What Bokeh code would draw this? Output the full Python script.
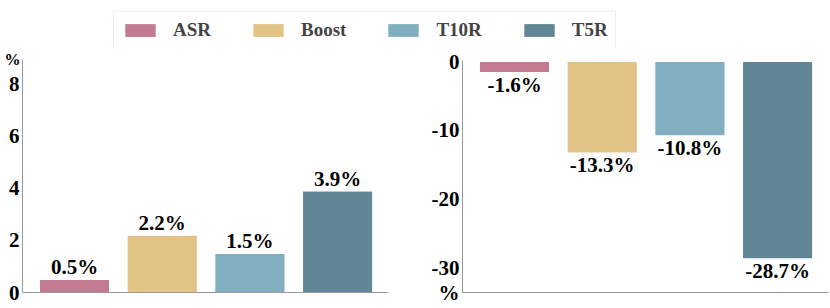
from bokeh.plotting import figure
from bokeh.models import (ColumnDataSource, Range1d, FixedTicker, Legend, LegendItem,
                          CustomJSTickFormatter, Label)
from bokeh.layouts import column, row
from bokeh.embed import file_html
from bokeh.resources import INLINE
from bokeh.core.properties import value

# ---- data ----
methods = ["ASR", "Boost", "T10R", "T5R"]
colors = ["#C27B91", "#E0C385", "#82AFC0", "#618696"]
gain_values = [0.5, 2.2, 1.5, 3.9]
drop_values = [-1.6, -13.3, -10.8, -28.7]
gain_ticks = [0, 2, 4, 6, 8]
drop_ticks = [0, -10, -20, -30]
unit_label = "%"

FONT = "Liberation Serif"
AXIS_COLOR = "#9a9a9a"
positions = list(range(len(methods)))


def make_source(vals):
    return ColumnDataSource(dict(
        x=positions, top=vals, method=methods, color=colors,
        label=[f"{v:.1f}%" for v in vals],
    ))


def style(p, ticks, unit_pos=None):
    p.grid.visible = False
    p.outline_line_color = None
    p.background_fill_color = "white"
    p.border_fill_color = "white"
    p.xaxis.ticker = FixedTicker(ticks=[])
    p.xaxis.major_tick_line_color = None
    p.xaxis.minor_tick_line_color = None
    p.xaxis.major_tick_out = 0
    p.xaxis.major_tick_in = 0
    p.xaxis.major_label_text_font_size = "0px"
    p.xaxis.major_label_standoff = 0
    p.xaxis.axis_line_color = AXIS_COLOR
    extra = [] if unit_pos is None else [unit_pos]
    edge = 1e9 if unit_pos is None else unit_pos
    p.yaxis.ticker = FixedTicker(ticks=ticks + extra)
    p.yaxis.formatter = CustomJSTickFormatter(
        args=dict(unit=unit_label, edge=edge),
        code="return Math.abs(tick - edge) < 1e-6 ? unit : tick.toFixed(0);")
    p.yaxis.major_tick_line_color = None
    p.yaxis.minor_tick_line_color = None
    p.yaxis.major_tick_out = 0
    p.yaxis.major_tick_in = 0
    p.yaxis.major_label_standoff = 3
    p.yaxis.major_label_text_font = FONT
    p.yaxis.major_label_text_font_style = "bold"
    p.yaxis.major_label_text_font_size = "21px"
    p.yaxis.major_label_text_color = "black"
    p.yaxis.axis_line_color = AXIS_COLOR


# ---- left panel (gains) ----
src_l = make_source(gain_values)
lx = Range1d(-0.593, 3.58)
ly = Range1d(0, 8.92)
left = figure(width=408, height=258, x_range=lx, y_range=ly,
              output_backend="svg", toolbar_location=None,
              min_border_left=22, min_border_right=20,
              min_border_top=12, min_border_bottom=14)
left.vbar(x="x", top="top", bottom=0, width=0.8, source=src_l,
          fill_color="color", line_color="white", line_width=1)
left.text(x="x", y="top", text="label", source=src_l,
          text_font=value(FONT), text_font_style="bold", text_font_size="21px",
          text_align="center", text_baseline="bottom", y_offset=0,
          text_color="black")
style(left, gain_ticks)
# unit sign at the top of the value axis (kept in the roomy right border so it
# does not widen the left border; positioned through the plot's own scales)
left.add_layout(Label(x=lx.start, y=ly.end, x_offset=-2, y_offset=1, text=unit_label,
                      text_align="right", text_baseline="middle",
                      text_font=FONT, text_font_style="bold", text_font_size="16px",
                      text_color="black"), "right")

# ---- right panel (drops) ----
src_r = make_source(drop_values)
rx = Range1d(-0.593, 3.58)
ry = Range1d(-33.6, 0.15)
right = figure(width=422, height=258, x_range=rx, y_range=ry,
               output_backend="svg", toolbar_location=None,
               min_border_left=54, min_border_right=2,
               min_border_top=12, min_border_bottom=14)
right.vbar(x="x", top=0, bottom="top", width=0.8, source=src_r,
           fill_color="color", line_color="white", line_width=1)
right.text(x="x", y="top", text="label", source=src_r,
           text_font=value(FONT), text_font_style="bold", text_font_size="21px",
           text_align="center", text_baseline="top", y_offset=0,
           text_color="black")
style(right, drop_ticks, ry.start)

# ---- legend strip ----
leg_fig = figure(width=830, height=48, x_range=Range1d(0, 1), y_range=Range1d(0, 1),
                 output_backend="svg", toolbar_location=None, min_border=0,
                 x_axis_location=None, y_axis_location=None)
leg_fig.grid.visible = False
leg_fig.outline_line_color = None
src_leg = make_source(gain_values)
leg_r = leg_fig.vbar(x="x", top="top", width=0.8, source=src_leg,
                     fill_color="color", line_color=None, visible=False)
items = [LegendItem(label=m, renderers=[leg_r], index=i) for i, m in enumerate(methods)]
legend = Legend(items=items, orientation="horizontal", location=(113, -1),
                glyph_width=38, glyph_height=16, label_standoff=14, spacing=38,
                padding=7, margin=0, label_height=22,
                label_text_font=FONT, label_text_font_style="bold",
                label_text_font_size="19px", label_text_baseline="middle",
                border_line_color="#dddddd", border_line_width=1,
                background_fill_color="white", background_fill_alpha=1.0)
leg_fig.add_layout(legend, "center")

layout = column(leg_fig, row(left, right, spacing=0), spacing=0)

open("out.html", "w").write(file_html(layout, INLINE))
